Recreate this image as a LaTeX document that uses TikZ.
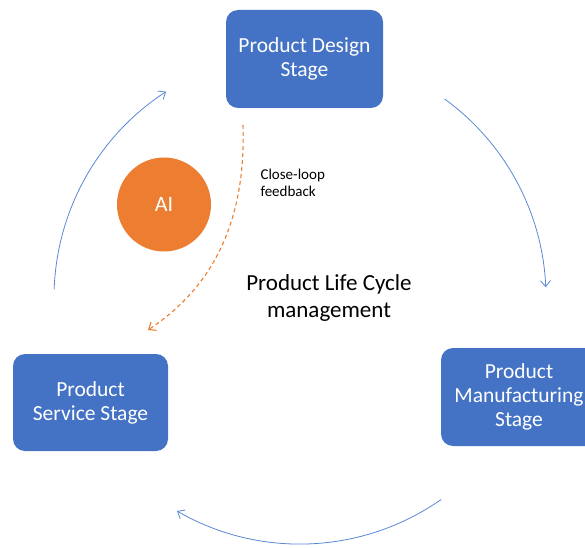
\documentclass[tikz,border=0pt]{standalone}
\usepackage{fontspec}
\setmainfont{Carlito}
\usetikzlibrary{arrows.meta,calc}
\definecolor{stageblue}{HTML}{4472C4}
\definecolor{arcblue}{HTML}{5B87D6}
\definecolor{aiorange}{HTML}{ED7D31}
\tikzset{
  stagebox/.style={draw=none,fill=stageblue,rounded corners=12pt,text=white,
    align=center,font=\fontsize{21.5}{24}\selectfont,inner sep=0pt},
  cyclearc/.style={draw=arcblue,line width=0.8pt,
    -{Straight Barb[length=6pt,width=10pt]}},
}
\begin{document}
\begin{tikzpicture}[x=1pt,y=1pt]
  \useasboundingbox (0,0) rectangle (585,547);
  \node[stagebox,minimum width=157pt,minimum height=98pt] (design) at (304.5,488) {Product Design\\Stage};
  \node[stagebox,minimum width=156pt,minimum height=98pt] (manuf) at (519,150) {Product\\Manufacturing\\Stage};
  \node[stagebox,minimum width=155pt,minimum height=97pt] (service) at (90.5,144.5) {Product\\Service Stage};
  \node[circle,fill=aiorange,text=white,minimum size=94pt,inner sep=0pt,
    font=\fontsize{22}{24}\selectfont] (ai) at (164,342.5) {AI};
  \node[align=center,font=\fontsize{23}{27}\selectfont] (plc) at (329,249) {Product Life Cycle\\management};
  \node[align=left,anchor=west,font=\fontsize{15}{17}\selectfont] (loop) at (257,364.5) {Close-loop\\feedback};
  % arcs round the cycle
  \coordinate (hub) at (300,249);
  \coordinate (a1) at ($(hub)+(54:246)$);
  \coordinate (a2) at ($(hub)+(-55:246)$);
  \coordinate (a3) at ($(hub)+(178:246)$);
  \draw[cyclearc] (a1) arc[start angle=54,end angle=2.5,radius=246];
  \draw[cyclearc] (a2) arc[start angle=-55,end angle=-120,radius=246];
  \draw[cyclearc] (a3) arc[start angle=178,end angle=123,radius=246];
  % feedback
  \coordinate (fb1) at (243,422);
  \coordinate (fb2) at (148,217);
  \draw[aiorange,line width=1.1pt,dash pattern=on 4pt off 3pt,
    -{Straight Barb[length=6pt,width=10pt]}]
    (fb1) .. controls (246,330) and (216,262) .. (fb2);
\end{tikzpicture}
\end{document}
